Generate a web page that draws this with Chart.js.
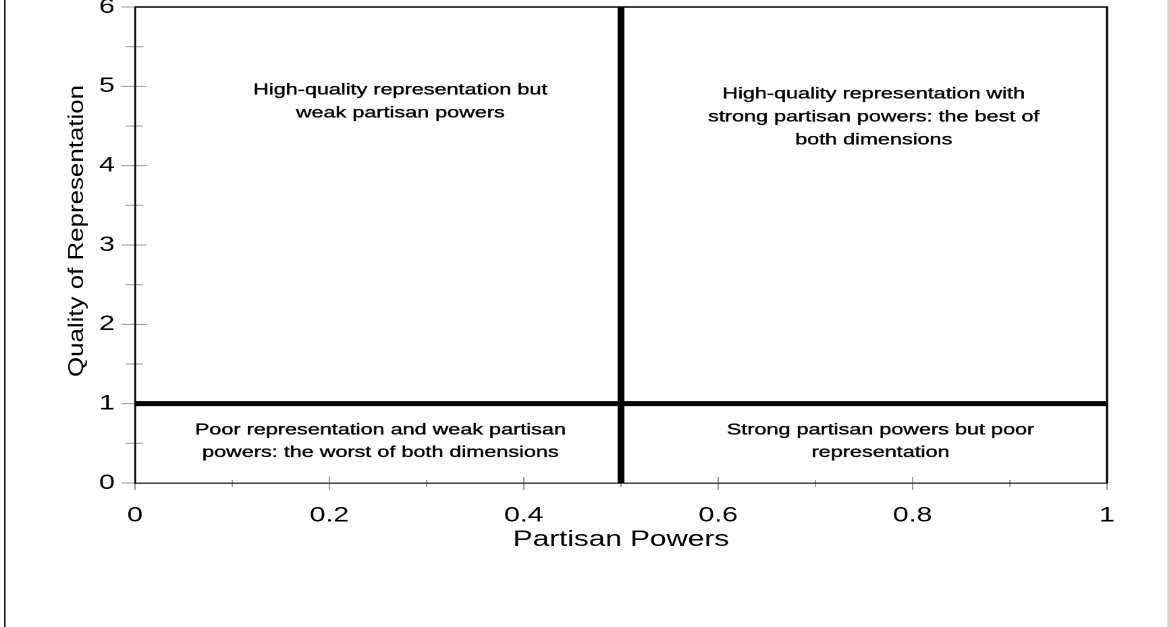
<!DOCTYPE html>
<html>
<head>
<meta charset="utf-8">
<script src="https://cdn.jsdelivr.net/npm/chart.js@4.4.1/dist/chart.umd.min.js"></script>
<style>
  html, body { margin: 0; padding: 0; background: #fff; overflow: hidden; }
  #wrap { width: 866px; height: 627px; transform: scaleX(1.35); transform-origin: 0 0; }
</style>
</head>
<body>
<div id="wrap"><canvas id="c" width="866" height="627"></canvas></div>
<script>
// ---- data ----
const xTickValues = [0, 0.2, 0.4, 0.6, 0.8, 1];
const xMinorTicks = [0.1, 0.3, 0.5, 0.7, 0.9];
const yTickValues = [0, 1, 2, 3, 4, 5, 6];
const yMinorTicks = [0.5, 1.5, 2.5, 3.5, 4.5, 5.5];
const dividerX = 0.5;      // Partisan Powers threshold
const dividerY = 1;        // Quality of Representation threshold
const xRange = [0, 1];
const yRange = [0, 6];
const xTitle = 'Partisan Powers';
const yTitle = 'Quality of Representation';
const quadrantText = [
  ['High-quality representation but', 'weak partisan powers'],
  ['High-quality representation with', 'strong partisan powers: the best of', 'both dimensions'],
  ['Poor representation and weak partisan', 'powers: the worst of both dimensions'],
  ['Strong partisan powers but poor', 'representation']
];
const quadrantAnchorX = [0.273, 0.760, 0.2525, 0.767];
const quadrantAnchorY = [4.95, 4.90, 0.67, 0.67];

const FONT = '"Liberation Sans", Arial, sans-serif';

const decor = {
  id: 'decor',
  beforeDraw(chart) {
    const ctx = chart.ctx;
    const xs = chart.scales.x, ys = chart.scales.y;
    const a = chart.chartArea;
    ctx.save();
    ctx.strokeStyle = '#9a9a9a';
    ctx.lineWidth = 1;
    yTickValues.forEach(v => {
      const p = ys.getPixelForValue(v);
      ctx.beginPath(); ctx.moveTo(a.left - 10, p); ctx.lineTo(a.left + 9, p); ctx.stroke();
    });
    yMinorTicks.forEach(v => {
      const p = ys.getPixelForValue(v);
      ctx.beginPath(); ctx.moveTo(a.left - 7, p); ctx.lineTo(a.left + 6, p); ctx.stroke();
    });
    xTickValues.forEach(v => {
      const p = xs.getPixelForValue(v);
      ctx.beginPath(); ctx.moveTo(p, a.bottom - 6); ctx.lineTo(p, a.bottom + 7); ctx.stroke();
    });
    xMinorTicks.forEach(v => {
      const p = xs.getPixelForValue(v);
      ctx.beginPath(); ctx.moveTo(p, a.bottom - 3); ctx.lineTo(p, a.bottom + 4); ctx.stroke();
    });
    ctx.strokeStyle = '#111';
    ctx.lineWidth = 1.1;
    ctx.beginPath(); ctx.moveTo(3.6, 0); ctx.lineTo(3.6, chart.height); ctx.stroke();
    ctx.strokeStyle = '#c8c8c8';
    ctx.lineWidth = 1;
    ctx.beginPath(); ctx.moveTo(865.3, 0); ctx.lineTo(865.3, chart.height); ctx.stroke();
    ctx.restore();
  },
  afterDatasetsDraw(chart) {
    const ctx = chart.ctx;
    const xs = chart.scales.x, ys = chart.scales.y;
    const a = chart.chartArea;
    ctx.save();
    ctx.strokeStyle = '#000';
    ctx.lineWidth = 1.6;
    ctx.beginPath();
    ctx.moveTo(a.left, a.top); ctx.lineTo(a.right, a.top); ctx.lineTo(a.right, a.bottom);
    ctx.stroke();
    ctx.fillStyle = '#000';
    ctx.strokeStyle = '#000';
    ctx.lineWidth = 0.35;
    ctx.font = '16px ' + FONT;
    ctx.textAlign = 'center';
    ctx.textBaseline = 'middle';
    quadrantText.forEach((lines, i) => {
      const px = xs.getPixelForValue(quadrantAnchorX[i]);
      const py = ys.getPixelForValue(quadrantAnchorY[i]);
      lines.forEach((t, j) => { ctx.fillText(t, px, py + j * 22.8); ctx.strokeText(t, px, py + j * 22.8); });
    });
    ctx.translate(57, 231);
    ctx.rotate(-Math.PI / 2);
    ctx.scale(1.67, 1);
    ctx.font = '15.5px ' + FONT;
    ctx.fillText(yTitle, 0, 0);
    ctx.restore();
  }
};

new Chart(document.getElementById('c'), {
  type: 'scatter',
  data: {
    datasets: [
      {
        data: [{ x: dividerX, y: yRange[0] }, { x: dividerX, y: yRange[1] }],
        showLine: true, borderColor: '#000', borderWidth: 5, pointRadius: 0, borderCapStyle: 'butt'
      },
      {
        data: [{ x: xRange[0], y: dividerY }, { x: xRange[1], y: dividerY }],
        showLine: true, borderColor: '#000', borderWidth: 5, pointRadius: 0, borderCapStyle: 'butt'
      }
    ]
  },
  options: {
    responsive: false,
    devicePixelRatio: 2,
    animation: false,
    events: [],
    layout: { padding: { top: 7, right: 46, left: 0, bottom: 0 } },
    plugins: { legend: { display: false }, tooltip: { enabled: false } },
    scales: {
      x: {
        type: 'linear', min: xRange[0], max: xRange[1],
        afterBuildTicks: s => { s.ticks = xTickValues.map(v => ({ value: v })); },
        afterFit: s => { s.height = 144; s.paddingLeft = 0; s.paddingRight = 0; },
        grid: { display: false, drawTicks: false },
        border: { display: true, color: '#333', width: 1.4 },
        ticks: { color: '#000', padding: 20, maxRotation: 0, font: { family: FONT, size: 21 },
                 callback: v => String(v) },
        title: { display: true, text: xTitle, color: '#000', font: { family: FONT, size: 22 },
                 padding: { top: 0, bottom: 74 } }
      },
      y: {
        type: 'linear', min: yRange[0], max: yRange[1],
        afterBuildTicks: s => { s.ticks = yTickValues.map(v => ({ value: v })); },
        afterFit: s => { s.width = 100; s.paddingTop = 0; s.paddingBottom = 0; },
        grid: { display: false, drawTicks: false },
        border: { display: true, color: '#000', width: 1.3 },
        ticks: { color: '#000', padding: 15, font: { family: FONT, size: 21 },
                 callback: v => String(v) },
        title: { display: false }
      }
    }
  },
  plugins: [decor]
});
</script>
</body>
</html>
